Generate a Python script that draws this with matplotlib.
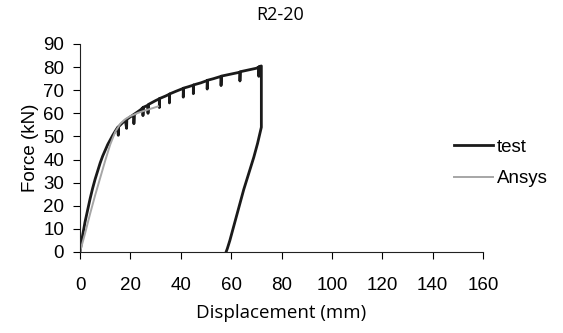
import matplotlib
matplotlib.use("Agg")
import matplotlib.pyplot as plt

# test curve (loading with small unloading dips, then unloading branch)
test_x = [0, 1, 2, 3, 4, 5, 6, 7, 8, 9, 10, 11, 12, 13, 14, 15,
          15.2, 15.3, 17, 18, 18.5, 18.6, 20, 21.4, 21.4, 21.5, 24, 25, 25, 25.1,
          27, 27, 27.1, 30, 31.5, 31.5, 31.6, 34, 35.5, 35.5, 35.6, 38, 41, 41, 41.1,
          43, 45, 45, 45.1, 48, 50.5, 50.5, 50.6, 53, 56, 56, 56.1, 60, 63.5, 63.5, 63.6,
          67, 70, 71, 71, 71.1, 72, 72,
          70.5, 69, 67, 65, 63, 61, 59.5, 58.5, 58]
test_y = [0, 7, 13, 18, 23, 27.5, 31.5, 35, 38.5, 41.5, 44, 46.5, 48.5, 50.5, 52.3, 54,
          50.5, 54.2, 56, 57, 53.5, 57.4, 58.5, 59.5, 55.5, 59.6, 61.5, 62.5, 59, 62.6,
          63.5, 60, 63.8, 65.5, 66.3, 62.5, 66.4, 67.5, 68.3, 64.5, 68.4, 69.5, 70.8, 67, 70.9,
          71.5, 72.2, 68.5, 72.3, 73.2, 74.2, 70.5, 74.3, 75, 76, 72, 76.1, 77, 77.8, 74, 78,
          78.8, 79.5, 80, 76, 80.2, 80.5, 54,
          47, 41, 34, 27, 19, 11, 5, 1.5, 0]

# Ansys curve
ansys_x = [0, 2, 4, 6, 8, 10, 12, 14, 16, 18, 20, 23, 26, 29, 31]
ansys_y = [0, 8, 16.5, 24.5, 32, 39.5, 46.5, 52, 55.5, 57.5, 58.8, 60.2, 61.3, 62.3, 63]

xticks = [0, 20, 40, 60, 80, 100, 120, 140, 160]
yticks = [0, 10, 20, 30, 40, 50, 60, 70, 80, 90]

fig = plt.figure(figsize=(5.63, 3.33), dpi=100)
ax = fig.add_axes([80/563, 1-252/333, 403/563, 208/333])

ax.plot(test_x, test_y, color="#1a1a1a", lw=2.0, label="test")
ax.plot(ansys_x, ansys_y, color="#a6a6a6", lw=1.4, label="Ansys")

ax.set_xlim(0, 160)
ax.set_ylim(0, 90)
ax.set_xticks(xticks)
ax.set_yticks(yticks)
for s in ["top", "right"]:
    ax.spines[s].set_visible(False)
for s in ["left", "bottom"]:
    ax.spines[s].set_linewidth(0.8)
    ax.spines[s].set_color("#222222")
ax.tick_params(axis="x", direction="out", length=5, width=0.8, pad=13, labelsize=13.5)
ax.tick_params(axis="y", direction="out", length=5, width=0.8, pad=6.5, labelsize=13.5)
for lab in ax.get_xticklabels() + ax.get_yticklabels():
    lab.set_fontfamily("Liberation Sans")

ax.set_ylabel("Force (kN)", fontsize=13.5, family="Liberation Sans", labelpad=3)

fig.text(280/563, 1-15/333, "R2-20", ha="center", va="center", fontsize=13, family="Open Sans")
fig.text(281/563, 1-313/333, "Displacement (mm)", ha="center", va="center", fontsize=13.5, family="Open Sans")

leg = fig.legend(loc="center left", bbox_to_anchor=(454/563, 1-163/333), frameon=False,
                 borderpad=0, borderaxespad=0, handlelength=2.1, handletextpad=0.2,
                 labelspacing=0.75, prop={"family": "Liberation Sans", "size": 13.5})

fig.savefig("out.png", dpi=100)
